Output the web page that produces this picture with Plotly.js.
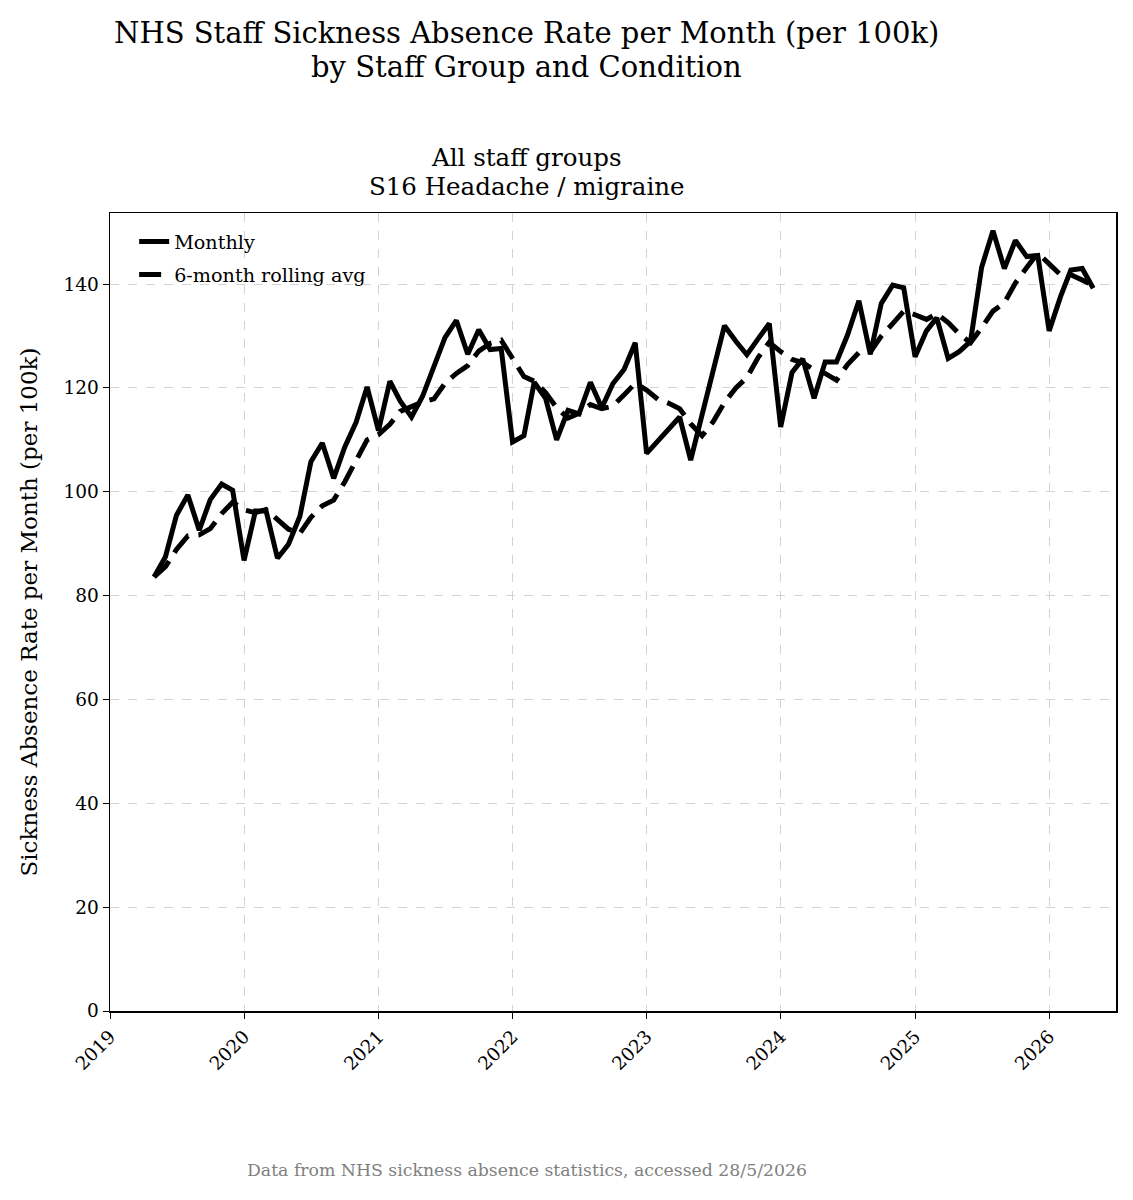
<!DOCTYPE html>
<html>
<head>
<meta charset="utf-8">
<script src="https://cdn.plot.ly/plotly-3.0.1.min.js"></script>
<style>
  body { margin: 0; background: #fff; }
  #plot { width: 1133px; height: 1200px; }
</style>
</head>
<body>
<div id="plot"></div>
<script>
// monthly data, May 2019 - May 2026
var startYear = 2019, startMonth = 5;
var monthly = [
    83.6, 87.5, 95.5, 99.4, 92.6, 98.5, 101.5, 100.3, 86.8, 96.3, 96.3, 87.2,
    89.9, 95.3, 105.8, 109.4, 102.6, 108.6, 113.4, 120.2, 111.8, 121.3, 117.5, 114.4,
    118.4, 124.0, 129.7, 133.0, 126.5, 131.2, 127.4, 127.6, 109.6, 110.8, 121.1, 118.0,
    110.0, 115.7, 115.0, 121.1, 116.2, 120.8, 123.6, 128.7, 107.4, 109.8, 112.0, 114.4,
    106.1, 115.0, 123.5, 132.0, 129.0, 126.4, 129.5, 132.4, 112.5, 123.0, 125.6, 118.0,
    125.0, 125.0, 130.2, 136.8, 126.5, 136.3, 139.8, 139.3, 126.0, 131.0, 133.5, 125.7,
    127.0, 129.0, 143.2, 150.3, 143.0, 148.4, 145.3, 145.5, 131.0, 137.6, 142.7, 143.0,
    139.2
];
var rolling = [
    83.6, 85.6, 88.9, 91.5, 91.7, 92.9, 95.8, 98.0, 96.5, 96.0, 96.6, 94.7,
    92.8, 92.0, 95.1, 97.3, 98.4, 101.9, 105.9, 110.0, 111.0, 113.0, 115.5, 116.4,
    117.3, 117.9, 120.9, 122.8, 124.3, 127.1, 128.6, 129.2, 125.9, 122.2, 121.3, 119.1,
    116.2, 114.2, 115.1, 116.8, 116.0, 116.5, 118.7, 120.9, 119.6, 117.8, 117.1, 116.0,
    113.1, 110.8, 113.5, 117.2, 120.0, 122.0, 125.9, 128.8, 127.0, 125.5, 124.9, 123.5,
    122.8, 121.5, 124.5, 126.8, 126.9, 130.0, 132.4, 134.8, 134.1, 133.2, 134.3, 132.6,
    130.4, 128.7, 131.6, 134.8, 136.4, 140.2, 143.2, 146.0, 143.9, 141.8, 141.8, 140.9,
    139.8
];

var dates = [];
for (var i = 0; i < monthly.length; i++) {
    var m = startMonth - 1 + i;
    var y = startYear + Math.floor(m / 12);
    var mm = (m % 12) + 1;
    dates.push(y + '-' + (mm < 10 ? '0' + mm : mm) + '-01');
}

var serif = '"DejaVu Serif", serif';

var traces = [
    {
        x: dates, y: monthly, name: 'Monthly', legendgroup: 'a',
        type: 'scatter', mode: 'lines',
        line: { color: '#000', width: 5 }
    },
    {
        x: dates, y: rolling, name: '6-month rolling avg', legendgroup: 'b',
        type: 'scatter', mode: 'lines',
        line: { color: '#000', width: 5, dash: '22px,10px' }
    }
];

// px -> paper helper for the text placed around the plot
function py(p) { return (1011 - p) / 798; }

var layout = {
    width: 1133, height: 1200,
    margin: { l: 110, r: 17, t: 213, b: 189 },
    paper_bgcolor: '#fff', plot_bgcolor: '#fff',
    font: { family: serif, color: '#000', size: 18.5 },
    showlegend: true,
    legend: {
        x: 0.024, y: 0.988, xanchor: 'left', yanchor: 'top',
        bgcolor: 'rgba(255,255,255,0)', font: { size: 19.2 },
        tracegroupgap: 5
    },
    xaxis: {
        type: 'date',
        range: ['2019-01-01', '2026-07-02'],
        tick0: '2019-01-01', dtick: 'M12', tickformat: '%Y',
        tickangle: -45,
        ticks: 'outside', ticklen: 6, tickcolor: '#000',
        showline: true, linecolor: '#000', linewidth: 1.5, mirror: true,
        showgrid: true, gridcolor: '#d3d3d3', griddash: 'dash', gridwidth: 1,
        zeroline: false
    },
    yaxis: {
        range: [0, 153.7],
        tick0: 0, dtick: 20,
        ticks: 'outside', ticklen: 6, tickcolor: '#000',
        showline: true, linecolor: '#000', linewidth: 1.5, mirror: true,
        showgrid: true, gridcolor: '#d3d3d3', griddash: 'dash', gridwidth: 1,
        zeroline: false,
        title: { text: 'Sickness Absence Rate per Month (per 100k)', font: { size: 23 }, standoff: 19 }
    },
    annotations: [
        {
            text: 'NHS Staff Sickness Absence Rate per Month (per 100k)',
            xref: 'paper', yref: 'paper', x: 0.4145, y: py(33),
            xanchor: 'center', yanchor: 'middle', showarrow: false,
            font: { size: 29 }
        },
        {
            text: 'by Staff Group and Condition',
            xref: 'paper', yref: 'paper', x: 0.4145, y: py(67),
            xanchor: 'center', yanchor: 'middle', showarrow: false,
            font: { size: 29 }
        },
        {
            text: 'All staff groups',
            xref: 'paper', yref: 'paper', x: 0.4145, y: py(158),
            xanchor: 'center', yanchor: 'middle', showarrow: false,
            font: { size: 24.5 }
        },
        {
            text: 'S16 Headache / migraine',
            xref: 'paper', yref: 'paper', x: 0.4145, y: py(186),
            xanchor: 'center', yanchor: 'middle', showarrow: false,
            font: { size: 24.5 }
        },
        {
            text: 'Data from NHS sickness absence statistics, accessed 28/5/2026',
            xref: 'paper', yref: 'paper', x: 0.4145, y: py(1170),
            xanchor: 'center', yanchor: 'middle', showarrow: false,
            font: { size: 17.3, color: '#808080' }
        }
    ]
};

Plotly.newPlot('plot', traces, layout, { displayModeBar: false, staticPlot: true });
</script>
</body>
</html>
